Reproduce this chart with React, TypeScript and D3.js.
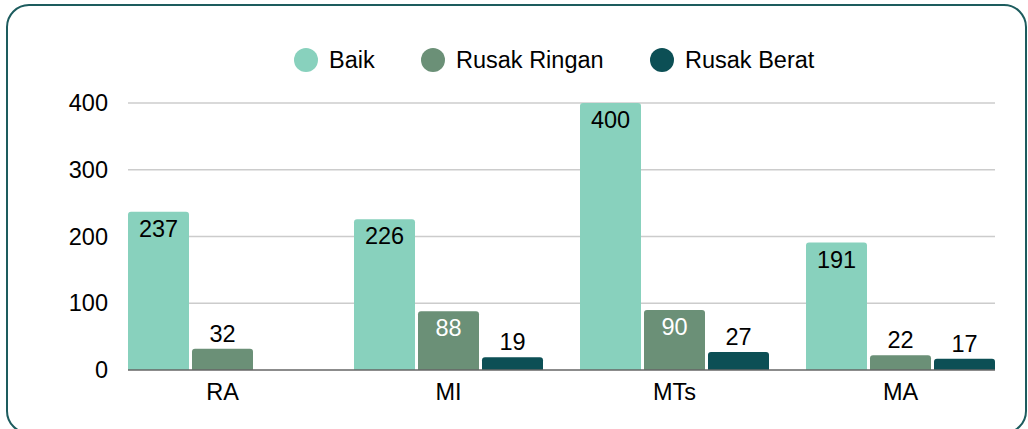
import { useMemo } from "react";
import { scaleBand, scaleLinear } from "d3";

const width = 1028;
const height = 429;

const categories = ["RA", "MI", "MTs", "MA"];
const seriesNames = ["Baik", "Rusak Ringan", "Rusak Berat"];
const baik = [237, 226, 400, 191];
const rusakRingan = [32, 88, 90, 22];
const rusakBerat = [0, 19, 27, 17];
const yTicks = [0, 100, 200, 300, 400];

const colors = ["#88d1bd", "#6b9077", "#0c4f55"];
const insideLabelColor = ["#000000", "#ffffff", "#ffffff"];
const legendX = [306, 433, 662];

const margin = { left: 128, right: 33, top: 103, bottom: 59 };
const font = "'Liberation Sans', Arial, sans-serif";
const fontSize = 23.5;

const topRoundedBar = (x: number, y: number, w: number, h: number, r: number) => {
  const rr = Math.min(r, h, w / 2);
  return `M${x},${y + h}V${y + rr}Q${x},${y} ${x + rr},${y}H${x + w - rr}Q${x + w},${y} ${x + w},${y + rr}V${y + h}Z`;
};

export default function App() {
  const { x0, x1, y } = useMemo(() => {
    const x0 = scaleBand<string>()
      .domain(categories)
      .range([margin.left, width - margin.right])
      .paddingInner(37 / 226)
      .paddingOuter(0);
    const x1 = scaleBand<string>()
      .domain(seriesNames)
      .range([0, x0.bandwidth()])
      .paddingInner(3 / 64)
      .paddingOuter(0);
    const y = scaleLinear()
      .domain([0, 400])
      .range([height - margin.bottom, margin.top]);
    return { x0, x1, y };
  }, []);

  const series = [baik, rusakRingan, rusakBerat];

  return (
    <div style={{ position: "fixed", left: 0, top: 0 }}>
      <svg width={width} height={height} viewBox={`0 0 ${width} ${height}`} fontFamily={font}>
        <rect x={0} y={0} width={width} height={height} fill="#ffffff" />
        <rect
          x={7}
          y={5}
          width={1019}
          height={428}
          rx={22}
          fill="#ffffff"
          stroke="#1d5c5e"
          strokeWidth={2}
        />

        {/* legend */}
        {seriesNames.map((name, i) => (
          <g key={name}>
            <circle cx={legendX[i]} cy={60} r={12} fill={colors[i]} />
            <text x={legendX[i] + 23} y={60} dominantBaseline="central" fontSize={fontSize} fill="#000">
              {name}
            </text>
          </g>
        ))}

        {/* grid */}
        {yTicks.map((t) => (
          <g key={t}>
            {t !== 0 && (
              <line
                x1={margin.left}
                x2={width - margin.right}
                y1={y(t)}
                y2={y(t)}
                stroke="#cccccc"
                strokeWidth={1.5}
              />
            )}
            <text
              x={108}
              y={y(t)}
              textAnchor="end"
              dominantBaseline="central"
              fontSize={fontSize}
              fill="#000"
            >
              {t}
            </text>
          </g>
        ))}

        {/* bars */}
        {categories.map((c, ci) => (
          <g key={c}>
            {series.map((vals, si) => {
              const v = vals[ci];
              if (!v) return null;
              const bx = (x0(c) ?? 0) + (x1(seriesNames[si]) ?? 0);
              const bw = x1.bandwidth();
              const top = y(v);
              const h = y(0) - top;
              const inside = h > 40;
              return (
                <g key={si}>
                  <path d={topRoundedBar(bx, top, bw, h, 3)} fill={colors[si]} />
                  <text
                    x={bx + bw / 2}
                    y={inside ? top + 17 : top - 15}
                    textAnchor="middle"
                    dominantBaseline="central"
                    fontSize={fontSize}
                    fill={inside ? insideLabelColor[si] : "#000"}
                  >
                    {v}
                  </text>
                </g>
              );
            })}
            <text
              x={(x0(c) ?? 0) + x0.bandwidth() / 2}
              y={392}
              textAnchor="middle"
              dominantBaseline="central"
              fontSize={fontSize}
              fill="#000"
            >
              {c}
            </text>
          </g>
        ))}

        <line
          x1={margin.left}
          x2={width - margin.right}
          y1={y(0)}
          y2={y(0)}
          stroke="#666666"
          strokeWidth={1.5}
        />
      </svg>
    </div>
  );
}
